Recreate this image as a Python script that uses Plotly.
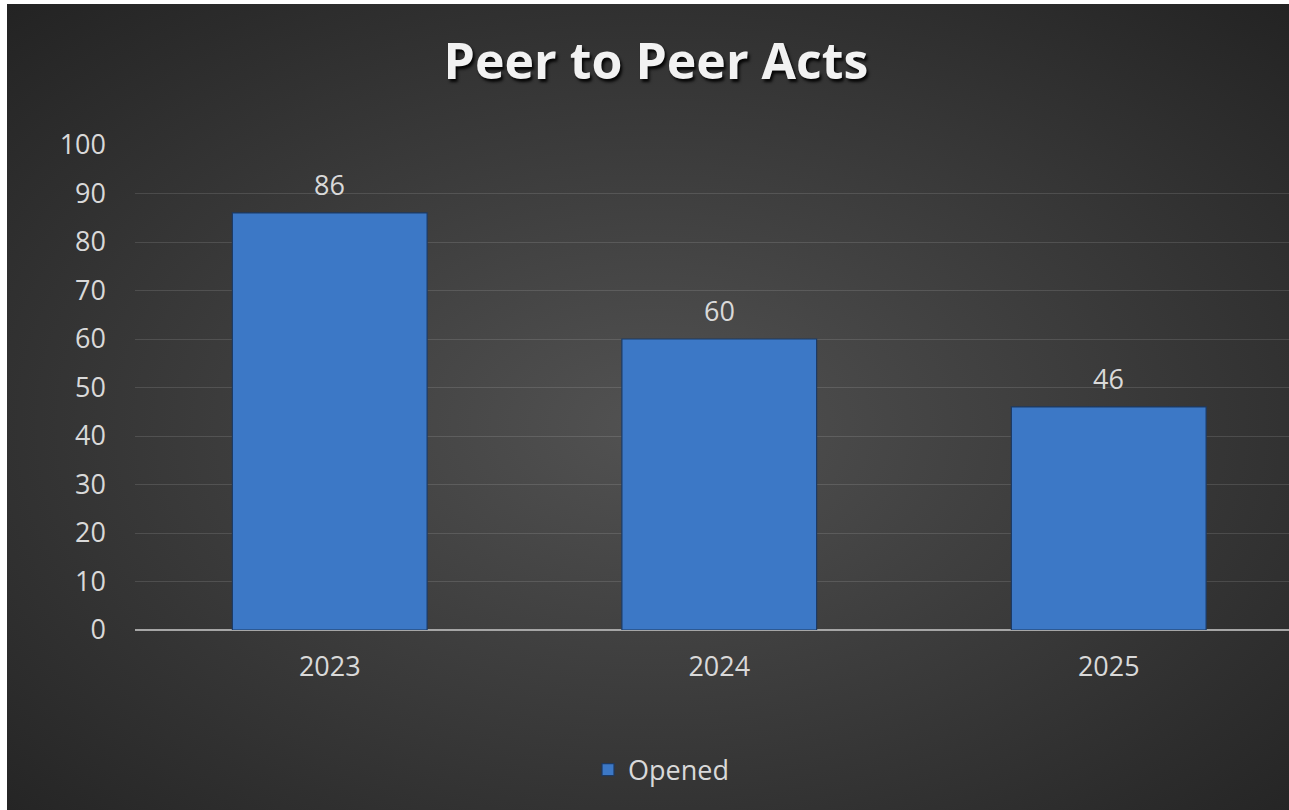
import base64
import plotly.graph_objects as go

categories = ["2023", "2024", "2025"]
opened = [86, 60, 46]
y_ticks = [0, 10, 20, 30, 40, 50, 60, 70, 80, 90, 100]

# page offset of the chart (white strip at left/top as in the reference)
OFF_X, OFF_Y = 7, 4
W, H = 1289, 810
ML, MR, MT, MB = 135 - OFF_X, 0, 145 - OFF_Y, H - (630 - OFF_Y)
PW, PH = W - ML - MR, H - MT - MB

svg = """<svg xmlns='http://www.w3.org/2000/svg' width='1289' height='810' preserveAspectRatio='none' viewBox='0 0 1289 810'>
<defs><radialGradient id='g' cx='0.5' cy='0.52' r='0.72' fx='0.5' fy='0.52'>
<stop offset='0' stop-color='#525252'/><stop offset='1' stop-color='#232323'/></radialGradient></defs>
<rect x='0' y='0' width='1289' height='810' fill='url(#g)'/></svg>"""
bg_src = "data:image/svg+xml;base64," + base64.b64encode(svg.encode()).decode()

FONT = "Open Sans"
TXT = "#d9d9d9"

fig = go.Figure()
fig.add_trace(go.Bar(
    x=categories, y=opened, name="Opened",
    marker=dict(color="#3c78c6", line=dict(color="#1d3a63", width=1.2)),
    width=0.5,
))

for i, v in enumerate(opened):
    fig.add_annotation(x=i, y=v, xref="x", yref="y", text=str(v), showarrow=False,
                       yanchor="bottom", yshift=8,
                       font=dict(size=27, color=TXT, family=FONT))

fig.add_layout_image(dict(
    source=bg_src, xref="paper", yref="paper",
    x=-ML / PW, y=1 + MT / PH,
    sizex=W / PW, sizey=H / PH,
    xanchor="left", yanchor="top", sizing="stretch", layer="below",
))

fig.update_layout(
    width=W, height=H,
    margin=dict(l=ML, r=MR, t=MT, b=MB),
    paper_bgcolor="#262626", plot_bgcolor="rgba(0,0,0,0)",
    title=dict(text="<b>Peer to Peer Acts</b>", x=(656 - OFF_X) / W, xanchor="center",
               y=1 - (61 - OFF_Y) / H, yanchor="middle",
               font=dict(size=50, color="#f2f2f2", family=FONT,
                         shadow="2px 3px 3px rgba(0,0,0,0.9)")),
    font=dict(family=FONT, color=TXT),
    showlegend=True,
    legend=dict(orientation="h", x=(661 - OFF_X - ML) / PW, xanchor="center",
                y=-(770 - 630) / PH, yanchor="middle",
                font=dict(size=27, color=TXT), bgcolor="rgba(0,0,0,0)"),
    xaxis=dict(type="category", range=[-0.5, -0.5 + PW / 389.5], showgrid=False,
               tickfont=dict(size=27, color=TXT),
               ticklabelstandoff=18, showline=False, zeroline=False),
    yaxis=dict(range=[0, 100], tickvals=y_ticks, showgrid=True,
               gridcolor="rgba(255,255,255,0.12)", gridwidth=1,
               tickfont=dict(size=27, color=TXT), ticklabelstandoff=28,
               zeroline=True, zerolinecolor="#a6a6a6", zerolinewidth=2),
)

post = ("document.body.style.margin='%dpx 0 0 %dpx';"
        "document.body.style.overflow='hidden';"
        "document.body.style.background='white';") % (OFF_Y, OFF_X)
fig.write_html("out.html", post_script=post)
